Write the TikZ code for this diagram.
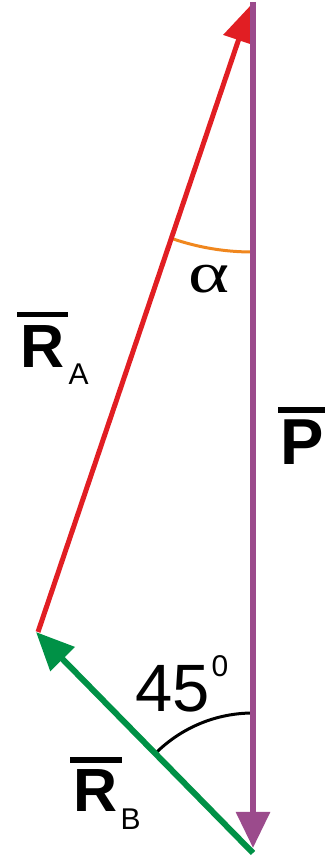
\documentclass[tikz,border=0pt]{standalone}
\usepackage{fontspec}
\setmainfont{Liberation Sans}
\newfontfamily\alphafont{Liberation Serif}
\usetikzlibrary{arrows.meta}
\definecolor{vpurple}{RGB}{155,75,140}
\definecolor{vred}{RGB}{225,30,35}
\definecolor{vgreen}{RGB}{0,145,70}
\definecolor{vorange}{RGB}{240,135,30}
\tikzset{
  force/.style={line width=#1},
  lbl/.style={inner sep=0pt, outer sep=0pt, anchor=base west, text=black},
  anglearc/.style={line width=3pt}
}
\begin{document}
\begin{tikzpicture}[x=1pt,y=1pt]
\useasboundingbox (0,0) rectangle (335,858);
% key points
\coordinate (Ptop) at (253,856);
\coordinate (Pbot) at (253,10);
\coordinate (Rtop) at (250,852);
\coordinate (L) at (36,226);
\coordinate (Gs) at (253,5);
\coordinate (Rs) at (38,226);
% angle arcs
\draw[anglearc, vorange] (252,606) arc[start angle=270, end angle=250.9, radius=245];
\draw[anglearc, black] (253,145) arc[start angle=90, end angle=135, radius=138];
% force vectors
\draw[force=5pt, vred, -{Triangle[length=36pt,width=31pt]}] (Rs) -- (Rtop);
\draw[force=6pt, vpurple, -{Triangle[length=36pt,width=33pt]}] (Ptop) -- (Pbot);
\draw[force=6pt, vgreen, -{Triangle[length=38pt,width=33pt]}] (Gs) -- (L);
% labels
\node[lbl] (alpha) at (188,565) {\alphafont\fontsize{58}{58}\selectfont\scalebox{1.35}[1]{α}};
\node[lbl] (RA) at (20.5,490) {\fontsize{61}{61}\selectfont\bfseries\rlap{\kern-3.5pt\raisebox{51pt}{\rule{51pt}{5pt}}}R\kern4pt\raisebox{-17pt}{\fontsize{30}{30}\selectfont\mdseries A}};
\node[lbl] (P) at (280,393) {\fontsize{65}{65}\selectfont\bfseries\rlap{\kern-2pt\raisebox{52pt}{\rule{47pt}{6pt}}}P};
\node[lbl] (RB) at (73.5,46) {\fontsize{61}{61}\selectfont\bfseries\rlap{\kern-3.5pt\raisebox{49pt}{\rule{52pt}{6pt}}}R\kern3pt\raisebox{-18pt}{\fontsize{30}{30}\selectfont\mdseries B}};
\node[lbl] (ang) at (135,146) {\fontsize{67}{67}\selectfont 45\kern2pt\raisebox{35pt}{\fontsize{30}{30}\selectfont 0}};
\end{tikzpicture}
\end{document}
